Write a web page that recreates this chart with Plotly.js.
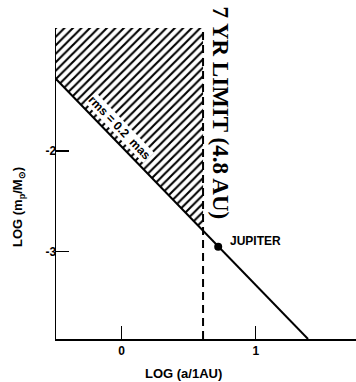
<!DOCTYPE html>
<html>
<head>
<meta charset="utf-8">
<script src="https://cdn.plot.ly/plotly-3.0.1.min.js"></script>
<style>html,body{margin:0;padding:0;background:#fff}#chart{width:356px;height:382px}</style>
</head>
<body>
<div id="chart"></div>
<script>
// Detection limit line: log(m_p/M_sun) vs log(a/1AU), rms = 0.2 mas
const limitX = [-0.49, 1.39];
const limitY = [-1.285, -3.867];
// Hatched (excluded) region boundary
const hatchX = [-0.49, -0.49, 0.607, 0.607, -0.49];
const hatchY = [-0.779, -1.285, -2.791, -0.779, -0.779];
// 7 yr limit (4.8 AU)
const limitAU_X = [0.607, 0.607];
const limitAU_Y = [-3.867, -0.779];
// Jupiter
const jupX = [0.72];
const jupY = [-2.95];
const jupLabel = ["JUPITER"];
const xTickVals = [0, 1];
const xTickText = ["0", "1"];
const yTickVals = [-2, -3];
const yTickText = ["-2", "-3"];

const sans = "Liberation Sans, Arial, sans-serif";
const W = 356, H = 382, L = 56, R = 0, T = 28, B = 43;
const px = v => (v - L) / (W - L - R), py = v => (H - B - v) / (H - T - B);

const traces = [
  {x: hatchX, y: hatchY, mode: "lines", fill: "toself", line: {width: 0, color: "rgba(0,0,0,0)"},
   fillcolor: "white",
   fillpattern: {shape: "/", size: 6, solidity: 0.35, fgcolor: "black", bgcolor: "white"},
   hoverinfo: "skip"},
  {x: limitX, y: limitY, mode: "lines", line: {color: "black", width: 2}},
  {x: limitAU_X, y: limitAU_Y, mode: "lines", line: {color: "black", width: 2, dash: "8px,5px"}},
  {x: jupX, y: jupY, mode: "markers", marker: {color: "black", size: 8}}
];

const layout = {
  width: W, height: H,
  margin: {l: L, r: R, t: T, b: B},
  paper_bgcolor: "white", plot_bgcolor: "white",
  showlegend: false,
  font: {family: sans, color: "black"},
  xaxis: {range: [-0.49, 1.748], showgrid: false, zeroline: false, showline: true, linecolor: "black", linewidth: 1.5,
    tickmode: "array", tickvals: xTickVals, ticktext: xTickText, ticks: "inside", ticklen: 13, tickwidth: 1.5, tickcolor: "black",
    tickfont: {family: sans, size: 12, weight: "bold"}},
  yaxis: {range: [-3.867, -0.779], showgrid: false, zeroline: false, showline: true, linecolor: "black", linewidth: 1.5,
    tickmode: "array", tickvals: yTickVals, ticktext: yTickText, ticks: "inside", ticklen: 13, tickwidth: 1.5, tickcolor: "black",
    tickfont: {family: sans, size: 12, weight: "bold"}, ticklabelstandoff: -4},
  annotations: [
    {x: px(183), y: py(373), xref: "paper", yref: "paper", xanchor: "center", yanchor: "middle",
     text: "LOG (a/1AU)", showarrow: false, font: {family: sans, size: 13, weight: "bold", color: "black"}},
    {x: px(18), y: py(207), xref: "paper", yref: "paper", xanchor: "center", yanchor: "middle",
     text: "LOG (m<sub>p</sub>/M<sub>⊙</sub>)", showarrow: false, textangle: -90,
     font: {family: sans, size: 13, weight: "bold", color: "black"}},
    {x: 0.735, y: -1.62, xref: "x", yref: "y", text: "7 YR LIMIT (4.8 AU)", showarrow: false, textangle: 90,
     font: {family: "Liberation Serif, Times New Roman, serif", size: 23, weight: "bold", color: "black"}},
    {x: -0.013, y: -1.77, xref: "x", yref: "y", text: "rms = 0.2  mas", showarrow: false, textangle: 46,
     bgcolor: "white", borderpad: 0,
     font: {family: sans, size: 12, weight: "bold", color: "black"}},
    {x: jupX[0], y: jupY[0], xref: "x", yref: "y", text: jupLabel[0], showarrow: false, xanchor: "left",
     xshift: 10, yshift: 6, font: {family: sans, size: 12, weight: "bold", color: "black"}}
  ]
};
Plotly.newPlot("chart", traces, layout, {displayModeBar: false, staticPlot: true});
</script>
</body>
</html>
